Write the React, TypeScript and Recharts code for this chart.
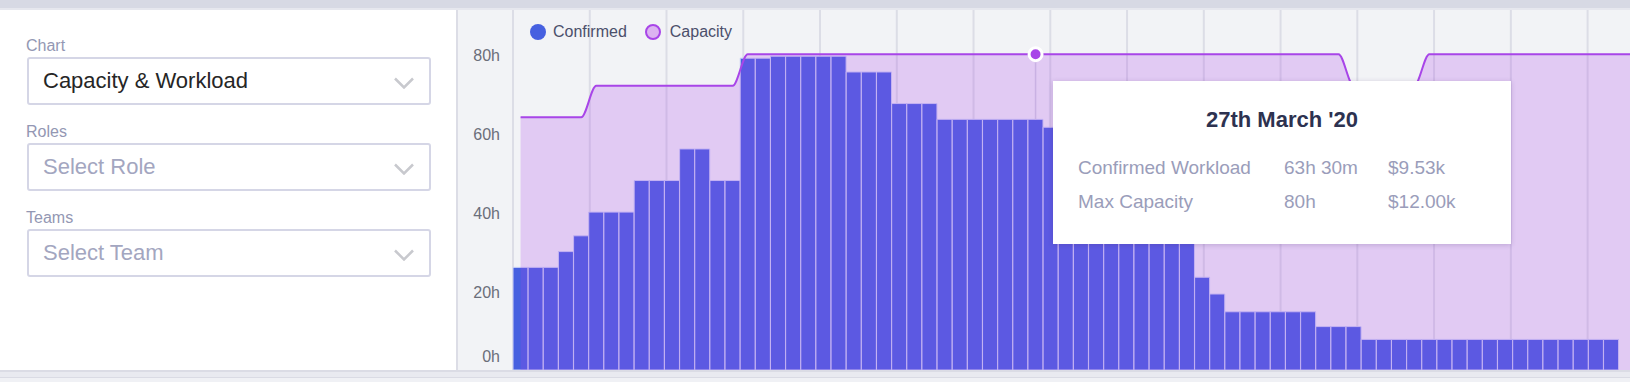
import React from "react";
import { ComposedChart, Bar, Area, XAxis, YAxis, CartesianGrid, Tooltip, Legend } from "recharts";

const FONT = '"Liberation Sans", Arial, Helvetica, sans-serif';
const RATE = 150; // $ per hour, used for the tooltip cost column

// one entry per working day (Mon-Fri), 15 weeks
const days = [
  "2020-02-10", "2020-02-11", "2020-02-12", "2020-02-13", "2020-02-14",
  "2020-02-17", "2020-02-18", "2020-02-19", "2020-02-20", "2020-02-21",
  "2020-02-24", "2020-02-25", "2020-02-26", "2020-02-27", "2020-02-28",
  "2020-03-02", "2020-03-03", "2020-03-04", "2020-03-05", "2020-03-06",
  "2020-03-09", "2020-03-10", "2020-03-11", "2020-03-12", "2020-03-13",
  "2020-03-16", "2020-03-17", "2020-03-18", "2020-03-19", "2020-03-20",
  "2020-03-23", "2020-03-24", "2020-03-25", "2020-03-26", "2020-03-27",
  "2020-03-30", "2020-03-31", "2020-04-01", "2020-04-02", "2020-04-03",
  "2020-04-06", "2020-04-07", "2020-04-08", "2020-04-09", "2020-04-10",
  "2020-04-13", "2020-04-14", "2020-04-15", "2020-04-16", "2020-04-17",
  "2020-04-20", "2020-04-21", "2020-04-22", "2020-04-23", "2020-04-24",
  "2020-04-27", "2020-04-28", "2020-04-29", "2020-04-30", "2020-05-01",
  "2020-05-04", "2020-05-05", "2020-05-06", "2020-05-07", "2020-05-08",
  "2020-05-11", "2020-05-12", "2020-05-13", "2020-05-14", "2020-05-15",
  "2020-05-18", "2020-05-19", "2020-05-20", "2020-05-21", "2020-05-22",
];

// confirmed workload (hours)
const confirmed = [
  26, 26, 26, 30, 34,
  40, 40, 40, 48, 48,
  48, 56, 56, 48, 48,
  79, 79, 79.5, 79.5, 79.5,
  79.5, 79.5, 75.5, 75.5, 75.5,
  67.5, 67.5, 67.5, 63.5, 63.5,
  63.5, 63.5, 63.5, 63.5, 63.5,
  61.5, 61.5, 61.5, 59.5, 59.5,
  55.5, 47.5, 47.5, 39.5, 39.5,
  23.5, 19.25, 14.75, 14.75, 14.75,
  14.75, 14.75, 14.75, 11, 11,
  11, 7.75, 7.75, 7.75, 7.75,
  7.75, 7.75, 7.75, 7.75, 7.75,
  7.75, 7.75, 7.75, 7.75, 7.75,
  7.75, 7.75, 7.75, 0, 0,
];

// max capacity (hours)
const capacity = [
  64, 64, 64, 64, 64,
  72, 72, 72, 72, 72,
  72, 72, 72, 72, 72,
  80, 80, 80, 80, 80,
  80, 80, 80, 80, 80,
  80, 80, 80, 80, 80,
  80, 80, 80, 80, 80,
  80, 80, 80, 80, 80,
  80, 80, 80, 80, 80,
  80, 80, 80, 80, 80,
  80, 80, 80, 80, 80,
  72, 72, 72, 72, 72,
  80, 80, 80, 80, 80,
  80, 80, 80, 80, 80,
  80, 80, 80, 80, 80,
];

const hourTicks = [0, 20, 40, 60, 80];
const weekTicks = [0, 5, 10, 15, 20, 25, 30, 35, 40, 45, 50, 55, 60, 65, 70];
const months = ["January", "February", "March", "April", "May", "June", "July", "August", "September", "October", "November", "December"];

const data = days.map((day, i) => ({ day, confirmed: confirmed[i], capacity: capacity[i] }));

const BAR_COLOR = "#4660e0";
const CAP_COLOR = "#a845e8";
const CHART_H = 360;

const ordinal = (n: number) => {
  if (n % 100 >= 11 && n % 100 <= 13) return `${n}th`;
  const s = ["th", "st", "nd", "rd"][n % 10] || "th";
  return `${n}${s}`;
};

const formatDay = (iso: string) => {
  const [y, m, d] = iso.split("-").map(Number);
  return `${ordinal(d)} ${months[m - 1]} '${String(y).slice(2)}`;
};

const formatHours = (h: number) => {
  const hh = Math.floor(h);
  const mm = Math.round((h - hh) * 60);
  return mm ? `${hh}h ${mm}m` : `${hh}h`;
};

const formatCost = (h: number) => `$${((h * RATE) / 1000).toFixed(2)}k`;

const HourTick = (props: any) => {
  const { x, y, payload } = props;
  // the 0h label sits a little above the baseline
  const lift = payload.value === 0 ? -13.5 : 1;
  return (
    <text x={x} y={y + lift} dy="0.355em" textAnchor="end" fontSize={16} fill="#6b6e7a" fontFamily={FONT}>
      {payload.value}h
    </text>
  );
};

// hover marker: a thin guide from the capacity point down to the top of the workload bar
const HoverDot = (props: any) => {
  const { cx, cy, payload } = props;
  if (cx == null || cy == null) return null;
  const ratio = payload && payload.capacity ? payload.confirmed / payload.capacity : 0;
  const barTop = CHART_H - (CHART_H - cy) * ratio;
  return (
    <g>
      <line x1={cx} x2={cx} y1={cy} y2={barTop} stroke="#c9b1e3" strokeWidth={1.5} />
      <circle cx={cx} cy={cy} r={6.5} fill={CAP_COLOR} stroke="#fff" strokeWidth={3} />
    </g>
  );
};

const CapacityTooltip = ({ active, payload }: any) => {
  if (!active || !payload || !payload.length) return null;
  const row = payload[0].payload;
  const cell = (left: number, top: number, text: string) => (
    <div style={{ position: "absolute", left, top, fontSize: 19, lineHeight: "34px", color: "#9a9dba", whiteSpace: "nowrap" }}>
      {text}
    </div>
  );
  return (
    <div
      style={{
        position: "relative",
        width: 458,
        height: 163,
        background: "#fff",
        boxShadow: "0 1px 5px rgba(70, 40, 110, 0.22)",
        fontFamily: FONT,
      }}
    >
      <div
        style={{
          position: "absolute",
          top: 28,
          left: 0,
          right: 0,
          textAlign: "center",
          fontSize: 22,
          lineHeight: "22px",
          fontWeight: 700,
          color: "#2d3250",
        }}
      >
        {formatDay(row.day)}
      </div>
      {cell(25, 70, "Confirmed Workload")}
      {cell(231, 70, formatHours(row.confirmed))}
      {cell(335, 70, formatCost(row.confirmed))}
      {cell(25, 104, "Max Capacity")}
      {cell(231, 104, formatHours(row.capacity))}
      {cell(335, 104, formatCost(row.capacity))}
    </div>
  );
};

const LegendContent = ({ payload }: any) => {
  const items = [...(payload || [])].sort((a: any, b: any) => (a.dataKey === "confirmed" ? -1 : b.dataKey === "confirmed" ? 1 : 0));
  return (
    <div style={{ display: "flex", alignItems: "center", fontFamily: FONT, fontSize: 16, lineHeight: "20px", color: "#4b4f6b" }}>
      {items.map((entry: any, i: number) => {
        const isCap = entry.dataKey === "capacity";
        return (
          <div key={entry.value} style={{ display: "flex", alignItems: "center", marginLeft: i ? 18 : 0 }}>
            <span
              style={{
                display: "inline-block",
                width: 16,
                height: 16,
                borderRadius: 8,
                boxSizing: "border-box",
                background: isCap ? "#dcb3f1" : BAR_COLOR,
                border: isCap ? `2px solid ${CAP_COLOR}` : "none",
                marginRight: isCap ? 9 : 7,
              }}
            />
            <span>{entry.value}</span>
          </div>
        );
      })}
    </div>
  );
};

const Chevron = () => (
  <svg width={20} height={12} style={{ position: "absolute", left: 365, top: 18 }}>
    <polyline points="1,1.5 10,10.5 19,1.5" fill="none" stroke="#c8c9ce" strokeWidth={2.5} />
  </svg>
);

const SelectBox = ({ top, text, placeholder }: { top: number; text: string; placeholder?: boolean }) => (
  <div
    style={{
      position: "absolute",
      left: 27,
      top,
      width: 404,
      height: 48,
      boxSizing: "border-box",
      border: "2px solid #d5d6e6",
      borderRadius: 3,
      background: "#fff",
      paddingLeft: 14,
      fontSize: 22,
      lineHeight: "44px",
      color: placeholder ? "#a3a6c0" : "#262626",
    }}
  >
    {text}
    <Chevron />
  </div>
);

const FieldLabel = ({ top, text }: { top: number; text: string }) => (
  <div style={{ position: "absolute", left: 26, top, fontSize: 16, lineHeight: "16px", color: "#9397b3" }}>{text}</div>
);

export default function App() {
  return (
    <div style={{ position: "relative", width: 1630, height: 382, overflow: "hidden", background: "#f0f1f5", fontFamily: FONT }}>
      <style>{"body{margin:0}"}</style>
      {/* page chrome */}
      <div style={{ position: "absolute", left: 0, top: 0, width: 1630, height: 8, background: "#d7d9e4" }} />
      <div style={{ position: "absolute", left: 0, top: 8, width: 1630, height: 2, background: "#e6e7ee" }} />
      <div style={{ position: "absolute", left: 0, top: 370, width: 1630, height: 2, background: "#dbdce5" }} />
      <div style={{ position: "absolute", left: 0, top: 372, width: 1630, height: 5, background: "#e9eaf0" }} />
      <div style={{ position: "absolute", left: 0, top: 377, width: 1630, height: 1, background: "#dadbe4" }} />

      {/* filters panel */}
      <div style={{ position: "absolute", left: 0, top: 10, width: 456, height: 360, background: "#fff" }} />
      <div style={{ position: "absolute", left: 456, top: 10, width: 2, height: 360, background: "#dcdde6" }} />
      <FieldLabel top={38} text="Chart" />
      <SelectBox top={57} text="Capacity & Workload" />
      <FieldLabel top={124} text="Roles" />
      <SelectBox top={143} text="Select Role" placeholder />
      <FieldLabel top={210} text="Teams" />
      <SelectBox top={229} text="Select Team" placeholder />

      {/* chart */}
      <div style={{ position: "absolute", left: 458, top: 10, width: 1172, height: CHART_H, overflow: "hidden", background: "#f2f3f6" }}>
        <ComposedChart
          width={1191}
          height={CHART_H}
          data={data}
          margin={{ top: 0, right: 0, bottom: 0, left: 0 }}
          barCategoryGap={0}
          barGap={0}
        >
          <XAxis dataKey="day" hide />
          <XAxis xAxisId="grid" type="number" domain={[0, days.length]} ticks={weekTicks} allowDataOverflow hide />
          <YAxis
            domain={[0, 91.2]}
            ticks={hourTicks}
            interval={0}
            allowDataOverflow
            axisLine={false}
            tickLine={false}
            tickSize={0}
            tickMargin={13}
            width={55}
            tick={<HourTick />}
          />
          <CartesianGrid xAxisId="grid" horizontal={false} stroke="#dcdde6" strokeWidth={2} />
          <Bar dataKey="confirmed" name="Confirmed" fill={BAR_COLOR} stroke="#cdd3f6" strokeWidth={1} isAnimationActive={false} />
          <Area
            type="monotone"
            dataKey="capacity"
            name="Capacity"
            stroke={CAP_COLOR}
            strokeWidth={2}
            fill={CAP_COLOR}
            fillOpacity={0.23}
            dot={false}
            activeDot={(p: any) => <HoverDot {...p} />}
            isAnimationActive={false}
            zIndex={350}
          />
          <Tooltip
            content={<CapacityTooltip />}
            defaultIndex={34}
            active
            position={{ x: 595, y: 71 }}
            cursor={false}
            isAnimationActive={false}
            wrapperStyle={{ outline: "none", zIndex: 5 }}
          />
          <Legend
            layout="horizontal"
            verticalAlign="middle"
            align="center"
            content={<LegendContent />}
            wrapperStyle={{ top: 12, left: 72, width: "auto" }}
          />
        </ComposedChart>
      </div>
    </div>
  );
}
